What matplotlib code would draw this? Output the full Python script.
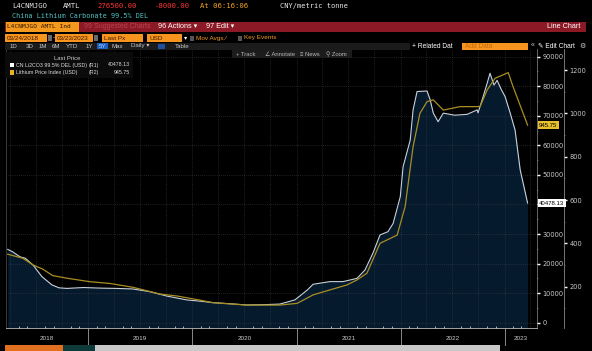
import numpy as np
import pandas as pd
import matplotlib
matplotlib.use('Agg')
import matplotlib.pyplot as plt
import matplotlib.dates as mdates
from matplotlib.patches import Rectangle
from matplotlib.ticker import MultipleLocator, FixedLocator

W, H = 592, 351

# CN Li2CO3 99.5% DEL (USD) - left series (R1)
li2co3_dates = ['2018-03-24', '2018-04-10', '2018-05-06', '2018-05-25', '2018-06-21', '2018-07-22',
                '2018-08-26', '2018-09-20', '2018-10-18', '2018-12-15', '2019-02-11', '2019-04-10',
                '2019-06-07', '2019-08-05', '2019-10-04', '2019-12-13', '2020-01-27', '2020-03-13',
                '2020-05-15', '2020-07-10', '2020-09-10', '2020-11-03', '2020-12-26', '2021-02-07',
                '2021-02-28', '2021-04-28', '2021-06-13', '2021-08-01', '2021-08-29', '2021-09-26',
                '2021-10-21', '2021-11-18', '2021-12-06', '2021-12-31', '2022-01-10', '2022-02-04',
                '2022-02-14', '2022-02-28', '2022-04-04', '2022-04-15', '2022-04-26', '2022-05-13',
                '2022-05-31', '2022-07-10', '2022-08-23', '2022-09-27', '2022-09-30', '2022-10-18',
                '2022-11-01', '2022-11-11', '2022-11-25', '2022-12-06', '2022-12-20', '2023-01-03',
                '2023-01-21', '2023-02-07', '2023-02-25', '2023-03-23']
li2co3_vals = [24800, 24000, 22300, 21800, 19500, 15600,
               12800, 11800, 11600, 11900, 11700, 11600,
               11400, 10500, 9000, 7700, 7300, 6800,
               6400, 6000, 6100, 6300, 7700, 11000,
               13000, 13900, 13900, 15000, 17800, 23500,
               29700, 30800, 33600, 42600, 52800, 61800,
               72000, 78200, 78400, 75400, 70900, 68000,
               70900, 70200, 70500, 72000, 71000, 76500,
               81000, 84400, 80400, 82000, 79000, 76500,
               70900, 65200, 51700, 40478.13]

# Lithium Price Index (USD) - right series (R2)
index_dates = ['2018-03-24', '2018-05-16', '2018-06-21', '2018-07-25', '2018-08-29', '2018-10-18',
               '2019-01-06', '2019-03-17', '2019-06-07', '2019-09-09', '2019-11-08', '2020-01-27',
               '2020-03-13', '2020-07-10', '2020-11-03', '2021-01-03', '2021-02-28', '2021-04-28',
               '2021-06-27', '2021-08-01', '2021-09-05', '2021-10-21', '2021-12-20', '2022-01-17',
               '2022-02-14', '2022-03-10', '2022-04-04', '2022-04-26', '2022-05-31', '2022-07-29',
               '2022-10-07', '2022-11-01', '2022-11-29', '2023-01-14', '2023-01-31', '2023-03-23']
index_vals = [350, 331, 300, 281, 251, 239,
              223, 215, 197, 166, 157, 138,
              126, 115, 115, 123, 162, 185,
              208, 231, 262, 400, 438, 569,
              846, 1000, 1054, 1062, 1015, 1031,
              1031, 1108, 1162, 1188, 1123, 945.75]

year_labels = ['2018', '2019', '2020', '2021', '2022', '2023']
r1_ticks = [0, 10000, 20000, 30000, 40000, 50000, 60000, 70000, 80000, 90000]
r2_ticks = [200, 400, 600, 800, 1000, 1200]

ui = ['Liberation Sans', 'DejaVu Sans']
mono = ['DejaVu Sans Mono']

fig = plt.figure(figsize=(W / 100, H / 100), dpi=100, facecolor='black')


def rect(x0, y0, x1, y1, color, z=1):
    fig.patches.append(Rectangle((x0 / W, 1 - y1 / H), (x1 - x0) / W, (y1 - y0) / H,
                                 transform=fig.transFigure, facecolor=color,
                                 edgecolor='none', zorder=z))


def txt(x, y, s, color='#d0d0d0', size=5, ha='left', family=ui, z=5):
    fig.text(x / W, 1 - y / H, s, color=color, fontsize=size, ha=ha, va='center',
             family=family, zorder=z)


# header rows
txt(12, 6, 'L4CNMJGO', '#e6e6e6', 5.2, family=mono)
txt(63, 6, 'AMTL', '#e6e6e6', 5.2, family=mono)
txt(97, 6, '276500.00', '#ff3434', 5.2, family=mono)
txt(155, 6, '-8000.00', '#ff3434', 5.2, family=mono)
txt(200, 6, 'At 06:16:06', '#f5a623', 5.2, family=mono)
txt(280, 6, 'CNY/metric tonne', '#e6e6e6', 5.0, family=mono)
txt(12, 16.5, 'China Lithium Carbonate 99.5% DEL', '#4fc4c4', 4.9, family=mono)

rect(5, 22, 586, 32, '#8b1a26')
rect(6, 22.5, 79, 31.5, '#f39a1e')
txt(7, 27, 'L4CNMJGO AMTL Ind', '#2a1000', 4.4, family=mono)
txt(84, 27, '99 Suggested Charts', '#b8424f', 5.0)
txt(158, 27, '96 Actions \u25be', 'white', 5.2)
txt(206, 27, '97 Edit \u25be', 'white', 5.2)
txt(580, 27, 'Line Chart', 'white', 5.2, ha='right')

orange = '#f7941d'
rect(5, 34, 47, 42, orange)
txt(7, 38, '03/24/2018', '#3b1800', 4.6)
rect(48, 35, 52, 41, '#6a6a6a')
txt(53, 38, '-', 'white', 4.6)
rect(55, 34, 93, 42, orange)
txt(57, 38, '03/23/2023', '#3b1800', 4.6)
rect(94, 35, 98, 41, '#6a6a6a')
rect(102, 34, 143, 42, orange)
txt(104, 38, 'Last Px', '#3b1800', 4.6)
rect(147, 34, 182, 42, orange)
txt(149, 38, 'USD', '#3b1800', 4.6)
txt(184, 38, '\u25be', 'white', 4.6)
rect(190, 35.5, 194, 40.5, '#555555')
txt(196, 38, 'Mov Avgs \u2215', '#f39a1e', 4.6)
rect(238, 35.5, 242, 40.5, '#555555')
txt(244, 38, 'Key Events', '#f39a1e', 4.6)

rect(5, 42.5, 410, 49.5, '#1b1b1b')
rect(97, 43, 108, 49, '#1f5fbf')
for x, s in [(13.5, '1D'), (30, '3D'), (42.5, '1M'), (56, '6M'), (72.5, 'YTD'),
             (89, '1Y'), (102.5, '5Y'), (117.5, 'Max'), (140, 'Daily \u25be'), (182.5, 'Table')]:
    txt(x, 46, s, '#a8d0ff' if s == '5Y' else '#c8c8c8', 4.4, ha='center')
rect(158, 43.5, 165, 48.5, '#1f4f9f')
txt(412, 46, '+ Related Dat', 'white', 4.8)
rect(462, 42.5, 528, 49.5, orange)
txt(465, 46, 'Add Data', '#c86a10', 4.8)
txt(531, 46, '\u00ab', '#cccccc', 5)
txt(538, 46, '\u270e Edit Chart', 'white', 4.8)
txt(582, 46, '\u2699', '#cccccc', 5, ha='center')

# main chart
ax = fig.add_axes([6 / W, 1 - 328 / H, (537 - 6) / W, (328 - 49) / H])
ax.set_facecolor('black')
d1 = pd.to_datetime(li2co3_dates)
d2 = pd.to_datetime(index_dates)
x_left, x_right = pd.Timestamp('2018-03-18'), pd.Timestamp('2023-04-25')
ax.set_xlim(x_left, x_right)
ax.set_ylim(-1793, 92605)

ax.fill_between(d1, li2co3_vals, ax.get_ylim()[0], color='#061a2e', lw=0, zorder=1)
ax.plot(d1, li2co3_vals, color='#c9d2dc', lw=0.8, zorder=3)

# second axis (R2)
ax2 = ax.twinx()
ax2.patch.set_visible(False)
ax2.set_ylim(9.2, 1297)
ax2.plot(d2, index_vals, color='#a88e22', lw=0.9, zorder=4)

ax.xaxis.set_major_locator(mdates.MonthLocator(bymonth=[1, 4, 7, 10]))
ax.xaxis.set_minor_locator(mdates.MonthLocator())
ax.yaxis.set_major_locator(FixedLocator(r1_ticks))
ax.yaxis.set_minor_locator(MultipleLocator(5000))
ax.set_axisbelow(False)
ax.grid(True, which='major', color='#3a4048', linestyle=(0, (1, 2)), linewidth=0.5)
ax.tick_params(axis='x', which='major', length=0, labelbottom=False)
ax.tick_params(axis='x', which='minor', direction='in', length=1.5, width=0.6, color='#cccccc')
ax.yaxis.tick_right()
ax.tick_params(axis='y', which='both', left=False, labelleft=False, right=True, labelright=True)
ax.tick_params(axis='y', which='major', direction='out', length=2.5, width=1.0, color='white',
               labelcolor='#c8c8c8', labelsize=4.8, pad=1.5)
ax.tick_params(axis='y', which='minor', direction='out', length=1, width=0.5, color='#888888')
# the last-value box sits over the tick label nearest to it
last_r1 = li2co3_vals[-1]
ax.yaxis.set_major_formatter(lambda v, p: '' if abs(v - last_r1) < 3000 else f'{int(v)}')
ax.spines['top'].set_visible(False)
ax.spines['left'].set_color('#444444')
ax.spines['right'].set_color('#777777')
ax.spines['bottom'].set_color('#bbbbbb')
for sp in ax.spines.values():
    sp.set_linewidth(0.6)

ax2.yaxis.set_major_locator(FixedLocator(r2_ticks))
ax2.yaxis.set_minor_locator(MultipleLocator(100))
ax2.spines['right'].set_position(('outward', 27 * 0.72))
for s in ['top', 'left', 'bottom']:
    ax2.spines[s].set_visible(False)
ax2.spines['right'].set_color('#888888')
ax2.spines['right'].set_linewidth(0.6)
ax2.tick_params(axis='y', which='major', direction='out', length=2.5, width=1.0, color='white',
                labelcolor='#c8c8c8', labelsize=4.8, pad=1.5)
ax2.tick_params(axis='y', which='minor', direction='out', length=1, width=0.5, color='#888888')

# year labels and separators
xt = ax.get_xaxis_transform()
for y in year_labels:
    start = max(pd.Timestamp(f'{y}-01-01'), x_left)
    end = min(pd.Timestamp(f'{int(y) + 1}-01-01'), x_right)
    mid = start + (end - start) / 2
    ax.text(mid, -0.036, y, transform=xt, ha='center', va='center', color='#c8c8c8',
            fontsize=4.6, family=ui, clip_on=False)
    if pd.Timestamp(f'{y}-01-01') > x_left:
        ax.plot([pd.Timestamp(f'{y}-01-01')] * 2, [-0.004, -0.061], transform=xt,
                color='#8a8a8a', lw=0.7, clip_on=False)

# last value boxes
ax2.annotate(f'{li2co3_vals[-1]:.2f}', xy=(1, li2co3_vals[-1]), xycoords=ax.get_yaxis_transform(),
             xytext=(1.5, 0), textcoords='offset points', ha='left', va='center', fontsize=4.3,
             color='black', family=ui, zorder=10, annotation_clip=False,
             bbox=dict(boxstyle='square,pad=0.2', fc='white', ec='none'))
ax2.annotate(f'{index_vals[-1]:.2f}', xy=(1, index_vals[-1]), xycoords=ax2.get_yaxis_transform(),
             xytext=(1.5, 0), textcoords='offset points', ha='left', va='center', fontsize=4.3,
             color='black', family=ui, zorder=10, annotation_clip=False,
             bbox=dict(boxstyle='square,pad=0.2', fc='#e8c02a', ec='none'))

# chart toolbar
rect(232, 50.5, 352, 58, '#1c1c1c')
for x, s in [(236, '+ Track'), (265, '\u2220 Annotate'), (300, '\u2261 News'), (326, '\u26b2 Zoom')]:
    txt(x, 54.2, s, '#b8b8b8', 4.2)

# legend
rect(5, 52, 133, 78, '#0b0b0b')
txt(67, 58, 'Last Price', '#cfcfcf', 4.2, ha='center')
rect(10, 63, 14, 67, 'white')
txt(16, 65, 'CN Li2CO3 99.5% DEL (USD)', '#dcdcdc', 3.8)
txt(89, 65, '(R1)', '#dcdcdc', 3.8)
txt(130, 65, f'{li2co3_vals[-1]:.2f}', '#dcdcdc', 3.8, ha='right')
rect(10, 70.5, 14, 74.5, '#e6b422')
txt(16, 72.5, 'Lithium Price Index (USD)', '#dcdcdc', 3.8)
txt(89, 72.5, '(R2)', '#dcdcdc', 3.8)
txt(130, 72.5, f'{index_vals[-1]:.2f}', '#dcdcdc', 3.8, ha='right')

# bottom strip
rect(5, 345, 63, 351, '#e07020')
rect(63, 345, 95, 351, '#0f3a3a')
rect(95, 345, 500, 351, '#c8c8c8')

fig.savefig('out.png', dpi=100, facecolor='black')
